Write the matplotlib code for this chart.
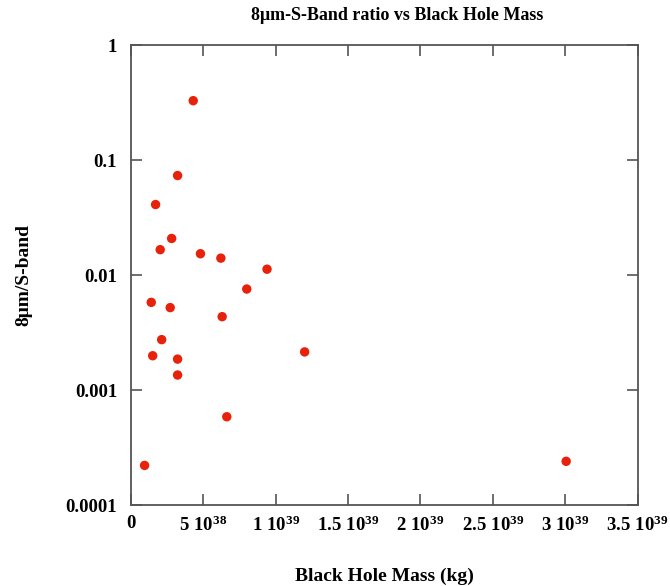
import matplotlib
matplotlib.use('Agg')
import matplotlib.pyplot as plt

plt.rcParams['font.family'] = ['Liberation Serif', 'DejaVu Serif']
plt.rcParams['font.weight'] = 'bold'
plt.rcParams['mathtext.fontset'] = 'custom'
plt.rcParams['mathtext.rm'] = 'Liberation Serif:bold'
plt.rcParams['mathtext.it'] = 'Liberation Serif:bold'
plt.rcParams['mathtext.bf'] = 'Liberation Serif:bold'
plt.rcParams['mathtext.default'] = 'rm'

# black hole mass (kg)
bh_mass = [4.30e38, 3.22e38, 1.70e38, 2.81e38, 2.02e38, 4.80e38, 6.21e38,
           9.40e38, 8.00e38, 1.40e38, 2.71e38, 6.30e38, 2.12e38, 1.50e38,
           3.22e38, 3.22e38, 1.20e39, 6.62e38, 0.94e38, 3.007e39]
# 8um / S-band ratio
ratio = [0.329, 0.0736, 0.0412, 0.0209, 0.0167, 0.0154, 0.0141,
         0.0113, 0.0076, 0.00582, 0.00524, 0.00437, 0.00276, 0.00200,
         0.00187, 0.00136, 0.00216, 0.00059, 0.000223, 0.000242]

xticks = [0, 5e38, 1e39, 1.5e39, 2e39, 2.5e39, 3e39, 3.5e39]
xlabels = ['0', r'$5\ 10^{38}$', r'$1\ 10^{39}$', r'$1.5\ 10^{39}$', r'$2\ 10^{39}$',
           r'$2.5\ 10^{39}$', r'$3\ 10^{39}$', r'$3.5\ 10^{39}$']
yticks = [0.0001, 0.001, 0.01, 0.1, 1]
ylabels = ['0.0001', '0.001', '0.01', '0.1', '1']

fig = plt.figure(figsize=(6.7, 5.86), dpi=100)
ax = fig.add_axes([0.1955, 0.1374, 0.756, 0.7856])

ax.scatter(bh_mass, ratio, s=46, color='#e8220a', edgecolors='none', zorder=3)

ax.set_yscale('log')
ax.set_xlim(0, 3.5e39)
ax.set_ylim(0.0001, 1)
ax.set_xticks(xticks)
ax.set_xticklabels(xlabels)
ax.set_yticks(yticks)
ax.set_yticklabels(ylabels)
ax.minorticks_off()
ax.tick_params(direction='in', length=8, width=1.2, color='#555555',
               top=True, right=True, labelsize=13.5)
ax.tick_params(axis='x', pad=7)
ax.tick_params(axis='y', pad=10)

for sp in ax.spines.values():
    sp.set_color('#555555')
    sp.set_linewidth(1.3)

ax.set_title('8\u03bcm-S-Band ratio vs Black Hole Mass', fontsize=13,
             fontweight='bold', pad=18, x=0.525)
ax.set_xlabel('Black Hole Mass (kg)', fontsize=14, fontweight='bold', labelpad=24)
ax.set_ylabel('8\u03bcm/S-band', fontsize=14, fontweight='bold', labelpad=24)

fig.savefig('out.png', dpi=100)
